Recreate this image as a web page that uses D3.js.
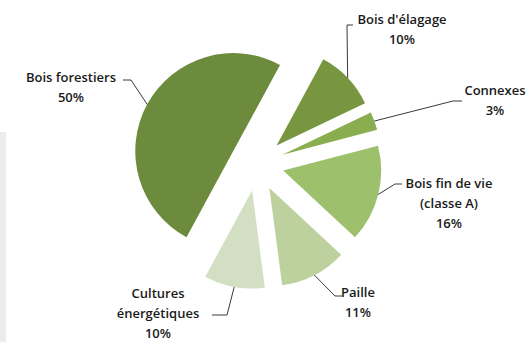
<!DOCTYPE html>
<html lang="fr">
<head>
  <meta charset="utf-8">
  <title>Répartition des ressources</title>
  <script src="https://cdn.jsdelivr.net/npm/d3@7"></script>
  <style>
    body { margin: 0; background: #fff; }
    .lbl text {
      font-family: "Open Sans", Lato, sans-serif;
      font-size: 13px;
      font-weight: 600;
      fill: #1a1a1a;
      text-anchor: middle;
      dominant-baseline: central;
    }
    .leader { fill: none; stroke: #3a3a3a; stroke-width: 1; }
  </style>
</head>
<body>
<script>
  // data (clockwise from Bois d'élagage)
  const categories = ["Bois d'élagage", "Connexes", "Bois fin de vie (classe A)", "Paille", "Cultures énergétiques", "Bois forestiers"];
  const shares = [10, 3, 16, 11, 10, 50];
  const labelLines = [
    ["Bois d'élagage", "10%"],
    ["Connexes", "3%"],
    ["Bois fin de vie", "(classe A)", "16%"],
    ["Paille", "11%"],
    ["Cultures", "énergétiques", "10%"],
    ["Bois forestiers", "50%"]
  ];
  const colors = ["#77963f", "#8aad50", "#9dc06c", "#bcd19e", "#d3dfc2", "#6d8b3c"];

  // layout
  const width = 528, height = 342;
  const cx = 257, cy = 164, R = 98, explode = 27;
  const startDeg = 28.5;
  const lineGap = 20;
  // label block centre (first line) and leader elbow / end
  const labelPos = [
    { x: 402, y: 19, elbow: [347, 25], end: [353, 25] },
    { x: 495, y: 90, elbow: [453, 101], end: [462, 101] },
    { x: 449, y: 183, elbow: [395, 184], end: [402, 184] },
    { x: 358, y: 292, elbow: [335, 296], end: [342, 296] },
    { x: 158, y: 293, elbow: [227, 315], end: [212, 315] },
    { x: 71, y: 77, elbow: [131, 80], end: [123, 80] }
  ];

  const svg = d3.select("body").append("svg")
    .attr("width", width).attr("height", height);

  // faint grey strip at the left edge of the original
  svg.append("rect").attr("x", 0).attr("y", 132).attr("width", 6).attr("height", height - 132)
    .attr("fill", "#ececec");

  const data = categories.map((c, i) => ({ name: c, value: shares[i], i }));
  const pie = d3.pie().value(d => d.value).sort(null)
    .startAngle(startDeg * Math.PI / 180)
    .endAngle(startDeg * Math.PI / 180 + 2 * Math.PI);
  const arcs = pie(data);
  const arc = d3.arc().innerRadius(0).outerRadius(R);

  const g = svg.append("g").attr("transform", `translate(${cx},${cy})`);

  function offsetOf(a) {
    const m = (a.startAngle + a.endAngle) / 2;
    return [explode * Math.sin(m), -explode * Math.cos(m)];
  }

  g.selectAll("path.slice").data(arcs).join("path")
    .attr("class", "slice")
    .attr("d", arc)
    .attr("fill", d => colors[d.data.i])
    .attr("transform", d => `translate(${offsetOf(d)})`);

  // leader lines
  svg.selectAll("path.leader").data(arcs).join("path")
    .attr("class", "leader")
    .attr("d", d => {
      const m = (d.startAngle + d.endAngle) / 2;
      const o = offsetOf(d);
      const p0 = [cx + o[0] + R * Math.sin(m), cy + o[1] - R * Math.cos(m)];
      const lp = labelPos[d.data.i];
      return d3.line()([p0, lp.elbow, lp.end]);
    });

  // labels
  const lbl = svg.selectAll("g.lbl").data(arcs).join("g").attr("class", "lbl");
  lbl.each(function (d) {
    const lp = labelPos[d.data.i];
    d3.select(this).selectAll("text").data(labelLines[d.data.i]).join("text")
      .attr("x", lp.x)
      .attr("y", (t, k) => lp.y + k * lineGap)
      .text(t => t);
  });
</script>
</body>
</html>
